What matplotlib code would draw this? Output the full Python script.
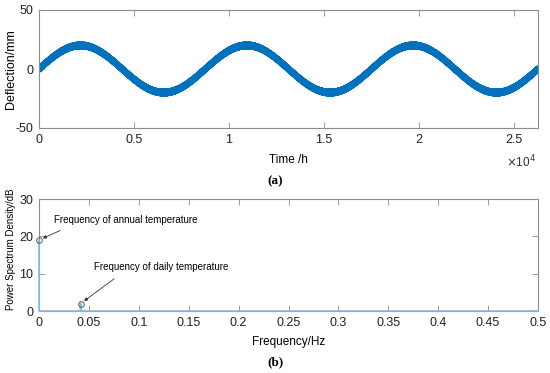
import numpy as np
import matplotlib
matplotlib.use("Agg")
import matplotlib.pyplot as plt

plt.rcParams['font.family'] = ['Liberation Sans', 'DejaVu Sans']
plt.rcParams['axes.unicode_minus'] = False

# (a) deflection record
t_end_h = 26280            # three years of hourly samples
annual_period_h = 8760
annual_amp_mm = 20.0
daily_period_h = 24
daily_amp_mm = 1.6

# (b) power spectrum, two peaks marked with circles
psd_freq = [0.0, 0.0001, 0.0416, 0.0417, 0.0418, 0.5]
psd_db = [19.0, 0.0, 0.0, 2.0, 0.0, 0.0]
peak_freq = [0.0, 0.0417]
peak_db = [19.0, 2.0]
peak_labels = ['Frequency of annual temperature', 'Frequency of daily temperature']
label_pos = [(0.015, 24.4), (0.055, 11.8)]

t = np.arange(0, t_end_h + 1)
defl = (annual_amp_mm * np.sin(2 * np.pi * t / annual_period_h)
        + daily_amp_mm * np.sin(2 * np.pi * t / daily_period_h))

fig = plt.figure(figsize=(5.5, 3.73), dpi=100)
ax1 = fig.add_axes([39 / 550, 1 - 128 / 373, 499 / 550, 118 / 373])
ax2 = fig.add_axes([39 / 550, 1 - 311 / 373, 499 / 550, 112 / 373])

blue = '#0072BD'
light = '#7DBDE8'
grey = '#8C8C8C'

ax1.plot(t, defl, color=blue, lw=3.0, solid_capstyle='butt')
ax1.set_xlim(0, t_end_h)
ax1.set_ylim(-50, 50)
ax1.set_yticks([-50, 0, 50])
ax1.set_xticks([0, 5000, 10000, 15000, 20000, 25000])
ax1.set_xticklabels(['0', '0.5', '1', '1.5', '2', '2.5'])
ax1.set_ylabel('Deflection/mm', fontsize=9)
ax1.yaxis.set_label_coords(-0.044, 0.5)
ax1.set_xlabel('Time /h', fontsize=8.5, labelpad=6)
ax1.text(0.995, -0.29, r'$\times$10$^4$', transform=ax1.transAxes,
         ha='right', va='center', fontsize=8.5, color='#333333')
fig.text(275 / 550, 1 - 181 / 373, '(a)', ha='center', va='center',
         fontsize=9.5, fontweight='bold', family='Liberation Serif')

ax2.plot(psd_freq, psd_db, color=light, lw=1.2, zorder=3, clip_on=False)
ax2.plot(peak_freq, peak_db, 'o', ms=4, mfc='none', mec='#555555', mew=0.7,
         clip_on=False, zorder=4)
ax2.set_xlim(0, 0.5)
ax2.set_ylim(0, 30)
ax2.set_yticks([0, 10, 20, 30])
ax2.set_xticks(np.arange(0, 0.51, 0.05))
ax2.set_xticklabels(['0', '0.05', '0.1', '0.15', '0.2', '0.25', '0.3',
                     '0.35', '0.4', '0.45', '0.5'])
ax2.set_ylabel('Power Spectrum Density/dB', fontsize=7)
ax2.yaxis.set_label_coords(-0.046, 0.55)
ax2.set_xlabel('Frequency/Hz', fontsize=8.5, labelpad=5)
fig.text(275 / 550, 1 - 362 / 373, '(b)', ha='center', va='center',
         fontsize=9.5, fontweight='bold', family='Liberation Serif')

for lbl, (fx, fy), px, py, rp in zip(peak_labels, label_pos, peak_freq, peak_db,
                                     [0.13, 0.22]):
    ax2.annotate(lbl, xy=(px, py), xytext=(fx, fy), fontsize=7, va='center',
                 arrowprops=dict(arrowstyle='-|>', color='#333333', lw=0.6,
                                 mutation_scale=5, shrinkA=5, shrinkB=3,
                                 relpos=(rp, 0)))

for ax in (ax1, ax2):
    for s in ax.spines.values():
        s.set_color(grey)
        s.set_linewidth(0.8)
    ax.tick_params(direction='in', top=True, right=True, length=4,
                   width=0.6, color=grey, labelsize=9, labelcolor='#222222',
                   pad=4)

fig.savefig('out.png', dpi=100)
